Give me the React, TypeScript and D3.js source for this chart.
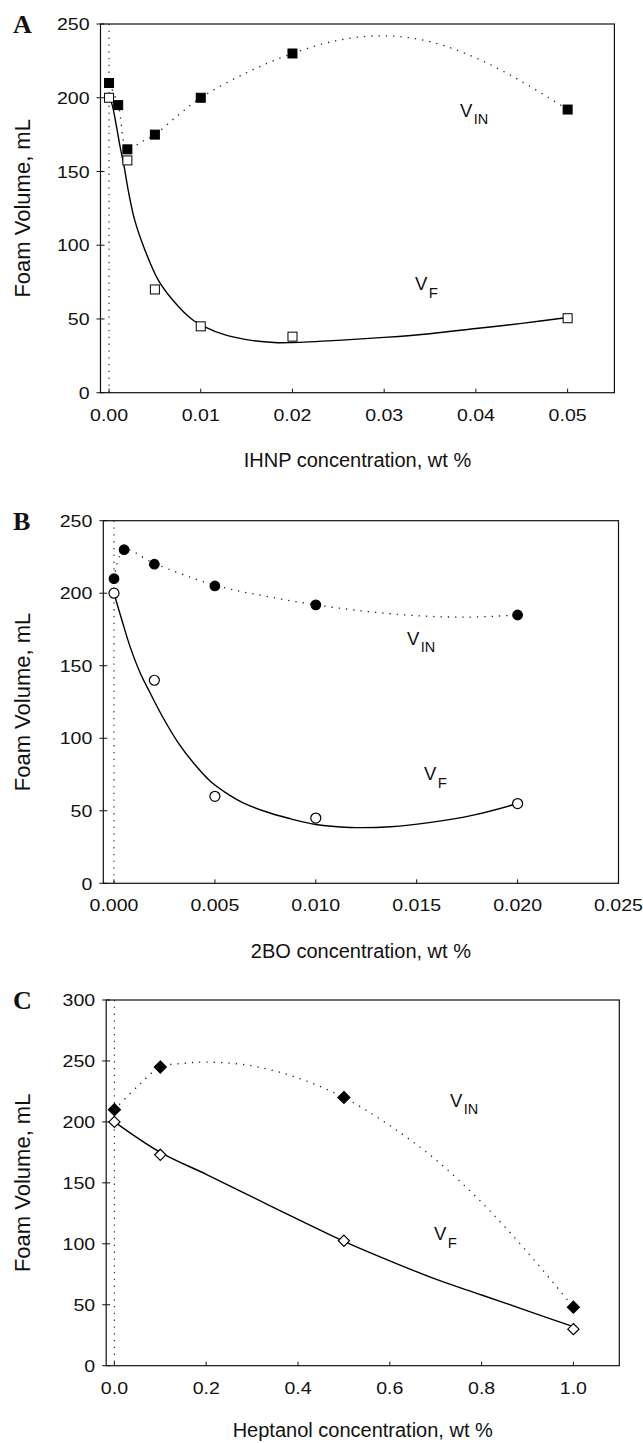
import React from "react";
import * as d3 from "d3";

// ---------- DATA ----------
// Panel A: IHNP
const aInX = [0, 0.001, 0.002, 0.005, 0.01, 0.02, 0.05];
const aInY = [210, 195, 165, 175, 200, 230, 192];
const aFX = [0, 0.002, 0.005, 0.01, 0.02, 0.05];
const aFY = [200, 157.5, 70, 45, 38, 50.5];
// fitted curves
const aInFitX = [0, 0.001, 0.002, 0.0035, 0.005, 0.0075, 0.01, 0.015, 0.02, 0.025, 0.03, 0.035, 0.04, 0.045, 0.05];
const aInFitY = [210, 195, 165, 170, 175, 188, 200, 217, 230, 239, 242, 238, 227, 211, 192];
const aFFitX = [0, 0.0003, 0.0008, 0.0012, 0.0016, 0.0021, 0.0028, 0.0039, 0.0054, 0.0072, 0.009, 0.0105, 0.0125, 0.015, 0.018, 0.02, 0.025, 0.03, 0.035, 0.04, 0.045, 0.05];
const aFFitY = [200, 196, 181, 167, 155, 137, 117, 97, 76, 61, 50, 44.5, 39.5, 36, 34, 34, 35.5, 37.5, 40, 43.5, 47, 51];
const aXTicks = [0, 0.01, 0.02, 0.03, 0.04, 0.05];
const aYTicks = [0, 50, 100, 150, 200, 250];

// Panel B: 2BO
const bInX = [0, 0.0005, 0.002, 0.005, 0.01, 0.02];
const bInY = [210, 230, 220, 205, 192, 185];
const bFX = [0, 0.002, 0.005, 0.01, 0.02];
const bFY = [200, 140, 60, 45, 55];
const bInFitX = [0, 0.0005, 0.002, 0.005, 0.0075, 0.01, 0.0125, 0.015, 0.0175, 0.02];
const bInFitY = [210, 230, 220.5, 205.5, 198, 192, 187.5, 184.5, 183.5, 185];
const bFFitX = [0, 0.0004, 0.0008, 0.0013, 0.0018, 0.0024, 0.0032, 0.004, 0.0048, 0.0057, 0.0064, 0.0075, 0.0086, 0.01, 0.0117, 0.0137, 0.0157, 0.0178, 0.02];
const bFFitY = [200, 181, 163, 145, 131, 115, 96.5, 82, 70, 61, 55.5, 49.5, 45, 40.5, 38.5, 39, 42, 47, 55];
const bXTicks = [0, 0.005, 0.01, 0.015, 0.02, 0.025];
const bYTicks = [0, 50, 100, 150, 200, 250];

// Panel C: Heptanol
const cInX = [0, 0.1, 0.5, 1.0];
const cInY = [210, 245, 220, 48];
const cFX = [0, 0.1, 0.5, 1.0];
const cFY = [200, 173, 102.5, 30];
const cInFitX = [0, 0.05, 0.1, 0.15, 0.2, 0.3, 0.4, 0.5, 0.6, 0.7, 0.8, 0.9, 1.0];
const cInFitY = [210, 229, 245, 248, 249, 246, 236, 220, 197, 169, 134, 93, 48];
const cFFitX = [0, 0.1, 0.2, 0.3, 0.4, 0.5, 0.6, 0.7, 0.8, 0.9, 1.0];
const cFFitY = [200, 175, 157, 138.5, 120, 102, 86, 71, 58, 45, 32];
const cXTicks = [0, 0.2, 0.4, 0.6, 0.8, 1.0];
const cYTicks = [0, 50, 100, 150, 200, 250, 300];

const zip = (xs: number[], ys: number[]) => xs.map((x, i) => [x, ys[i]] as [number, number]);

type Marker = "square" | "circle" | "diamond";

interface PanelCfg {
  letter: string;
  xLabel: string;
  left: number; right: number; top: number; bottom: number;
  xDomain: [number, number];
  yDomain: [number, number];
  xTicks: number[]; yTicks: number[];
  xFmt: string;
  marker: Marker;
  inPts: [number, number][]; fPts: [number, number][];
  inFit: [number, number][]; fFit: [number, number][];
  vin: [number, number]; vf: [number, number];
  xLabelY: number;
}

const panels: PanelCfg[] = [
  {
    letter: "A", xLabel: "IHNP concentration, wt %",
    left: 100.5, right: 614.4, top: 24, bottom: 392.7,
    xDomain: [-0.00093, 0.0551], yDomain: [0, 250],
    xTicks: aXTicks, yTicks: aYTicks, xFmt: ".2f", marker: "square",
    inPts: zip(aInX, aInY), fPts: zip(aFX, aFY),
    inFit: zip(aInFitX, aInFitY), fFit: zip(aFFitX, aFFitY),
    vin: [460, 116.7], vf: [415, 290], xLabelY: 467,
  },
  {
    letter: "B", xLabel: "2BO concentration, wt %",
    left: 103.3, right: 618.5, top: 520.7, bottom: 883.3,
    xDomain: [-0.00053, 0.025], yDomain: [0, 250],
    xTicks: bXTicks, yTicks: bYTicks, xFmt: ".3f", marker: "circle",
    inPts: zip(bInX, bInY), fPts: zip(bFX, bFY),
    inFit: zip(bInFitX, bInFitY), fFit: zip(bFFitX, bFFitY),
    vin: [407, 645], vf: [424, 779.5], xLabelY: 958,
  },
  {
    letter: "C", xLabel: "Heptanol concentration, wt %",
    left: 106.2, right: 619.3, top: 1000, bottom: 1365.7,
    xDomain: [-0.0179, 1.1], yDomain: [0, 300],
    xTicks: cXTicks, yTicks: cYTicks, xFmt: ".1f", marker: "diamond",
    inPts: zip(cInX, cInY), fPts: zip(cFX, cFY),
    inFit: zip(cInFitX, cInFitY), fFit: zip(cFFitX, cFFitY),
    vin: [450, 1106.7], vf: [434, 1240], xLabelY: 1437,
  },
];

const SANS = "'Liberation Sans', Arial, Helvetica, sans-serif";
const SERIF = "'Liberation Serif', 'Times New Roman', serif";

function drawMarker(kind: Marker, cx: number, cy: number, filled: boolean, key: string) {
  const fill = filled ? "#000" : "#fff";
  if (kind === "square") {
    const s = 9;
    return <rect key={key} x={cx - s / 2} y={cy - s / 2} width={s} height={s} fill={fill} stroke="#000" strokeWidth={1} />;
  }
  if (kind === "circle") {
    return <circle key={key} cx={cx} cy={cy} r={filled ? 4.8 : 5} fill={fill} stroke="#000" strokeWidth={1.2} />;
  }
  const h = filled ? 6 : 5.6;
  return (
    <path key={key} d={`M${cx},${cy - h}L${cx + h},${cy}L${cx},${cy + h}L${cx - h},${cy}Z`} fill={fill} stroke="#000" strokeWidth={1.2} />
  );
}

function Panel({ p }: { p: PanelCfg }) {
  const x = d3.scaleLinear().domain(p.xDomain).range([p.left, p.right]);
  const y = d3.scaleLinear().domain(p.yDomain).range([p.bottom, p.top]);
  const line = d3
    .line<[number, number]>()
    .x((d) => x(d[0]))
    .y((d) => y(d[1]))
    .curve(d3.curveCatmullRom.alpha(0.5));
  const fmt = d3.format(p.xFmt);
  const cy = (p.top + p.bottom) / 2;
  const cx = (p.left + p.right) / 2;
  const sx = 1.15;
  return (
    <g>
      {/* zero reference */}
      <line x1={x(0)} x2={x(0)} y1={p.top} y2={p.bottom} stroke="#333" strokeWidth={1.2} strokeDasharray="1.3,5.5" />
      {/* fits */}
      <path d={line(p.inFit) || ""} fill="none" stroke="#222" strokeWidth={1.3} strokeDasharray="1.3,6" />
      <path d={line(p.fFit) || ""} fill="none" stroke="#000" strokeWidth={1.4} />
      {/* frame */}
      <rect x={p.left} y={p.top} width={p.right - p.left} height={p.bottom - p.top} fill="none" stroke="#111" strokeWidth={1.2} />
      {/* x ticks */}
      {p.xTicks.map((t, i) => (
        <g key={"xt" + i}>
          <line x1={x(t)} x2={x(t)} y1={p.bottom} y2={p.bottom - 4} stroke="#111" strokeWidth={1} />
          <g transform={`translate(${x(t)},${p.bottom + 28}) scale(${sx},1)`}>
            <text textAnchor="middle" fontFamily={SANS} fontSize={17} fill="#111">{fmt(t)}</text>
          </g>
        </g>
      ))}
      {/* y ticks */}
      {p.yTicks.map((t, i) => (
        <g key={"yt" + i}>
          <line x1={p.left - 4} x2={p.left + 4} y1={y(t)} y2={y(t)} stroke="#111" strokeWidth={1} />
          <g transform={`translate(${p.left - 11},${y(t) + 6.2}) scale(${sx},1)`}>
            <text textAnchor="end" fontFamily={SANS} fontSize={17} fill="#111">{String(t)}</text>
          </g>
        </g>
      ))}
      {/* markers */}
      {p.inPts.map((d, i) => drawMarker(p.marker, x(d[0]), y(d[1]), true, "in" + i))}
      {p.fPts.map((d, i) => drawMarker(p.marker, x(d[0]), y(d[1]), false, "f" + i))}
      {/* labels */}
      <text x={p.vin[0]} y={p.vin[1]} fontFamily={SANS} fontSize={18.5} fill="#111">
        V<tspan dx={1.5} dy={6.8} fontSize={14.5}>IN</tspan>
      </text>
      <text x={p.vf[0]} y={p.vf[1]} fontFamily={SANS} fontSize={18.5} fill="#111">
        V<tspan dx={1.5} dy={8.3} fontSize={15}>F</tspan>
      </text>
      <text x={13} y={p.top + 9} fontFamily={SERIF} fontWeight="bold" fontSize={26} fill="#111">{p.letter}</text>
      <text transform={`translate(30,${cy}) rotate(-90)`} textAnchor="middle" fontFamily={SANS} fontSize={22} fill="#111">
        Foam Volume, mL
      </text>
      <text x={cx} y={p.xLabelY} textAnchor="middle" fontFamily={SANS} fontSize={20} fill="#111">
        {p.xLabel}
      </text>
    </g>
  );
}

export default function App() {
  return (
    <svg
      width={643}
      height={1443}
      viewBox="0 0 643 1443"
      style={{ position: "absolute", left: 0, top: 0, background: "#fff" }}
    >
      <rect x={0} y={0} width={643} height={1443} fill="#fff" />
      {panels.map((p) => (
        <Panel key={p.letter} p={p} />
      ))}
    </svg>
  );
}
